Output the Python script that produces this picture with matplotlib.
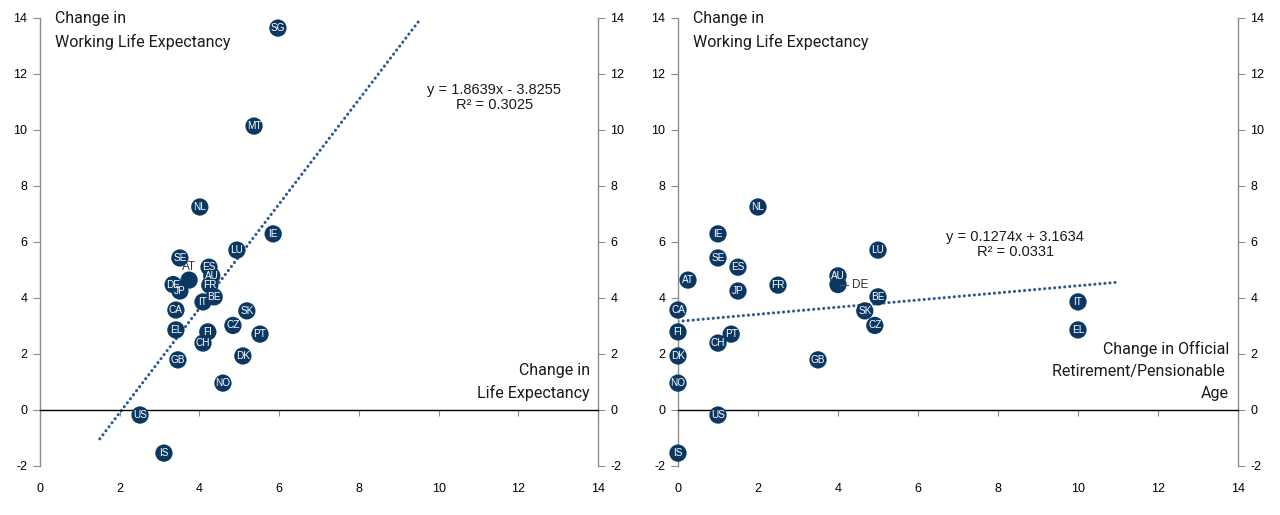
import numpy as np
import matplotlib.pyplot as plt
import matplotlib as mpl

mpl.rcParams.update({
    "font.family": ["Liberation Sans", "DejaVu Sans"],
    "font.size": 9,
    "axes.unicode_minus": False,
})

# country codes with change in life expectancy, working life expectancy, pension age
codes = ["SG", "MT", "NL", "IE", "LU", "SE", "AT", "ES", "AU", "FR", "DE", "JP", "BE",
         "IT", "CA", "SK", "CZ", "EL", "FI", "PT", "CH", "GB", "DK", "NO", "US", "IS"]
life_exp_chg = [5.97, 5.37, 4.01, 5.85, 4.94, 3.51, 3.74, 4.24, 4.31, 4.26, 3.34, 3.51, 4.37,
                4.09, 3.41, 5.19, 4.84, 3.41, 4.21, 5.52, 4.09, 3.46, 5.09, 4.59, 2.51, 3.11]
work_life_chg = [13.64, 10.14, 7.25, 6.29, 5.71, 5.43, 4.64, 5.10, 4.79, 4.46, 4.48, 4.25, 4.04,
                 3.86, 3.57, 3.54, 3.02, 2.86, 2.79, 2.71, 2.39, 1.79, 1.93, 0.96, -0.18, -1.54]
pension_age_chg = [np.nan, np.nan, 2.0, 1.0, 5.0, 1.0, 0.25, 1.5, 4.0, 2.5, 4.0, 1.5, 5.0,
                   10.0, 0.0, 4.67, 4.92, 10.0, 0.0, 1.33, 1.0, 3.5, 0.0, 0.0, 1.0, 0.0]

# trend lines as printed on the chart
fit_left = (1.8639, -3.8255, 0.3025)
fit_left_range = (1.5, 9.5)
fit_right = (0.1274, 3.1634, 0.0331)
fit_right_range = (0.0, 11.0)

ticks = np.arange(-2, 15, 2)
xticks = np.arange(0, 15, 2)

NAVY = "#0b3862"
TREND = "#2e5b8a"
SPINE = "#8c8c8c"
LABEL_FONT = ["Roboto", "DejaVu Sans"]


def style_axes(ax):
    ax.set_xlim(0, 14)
    ax.set_ylim(-2, 14)
    ax.set_yticks(ticks)
    ax.spines["top"].set_visible(False)
    for side in ("left", "right"):
        ax.spines[side].set_color(SPINE)
        ax.spines[side].set_linewidth(1.0)
    ax.spines["bottom"].set_position(("data", 0))
    ax.spines["bottom"].set_color("black")
    ax.spines["bottom"].set_linewidth(1.0)
    ax.set_xticks(xticks)
    ax.tick_params(axis="x", direction="out", length=4, color=SPINE, labelbottom=False)
    ax.tick_params(axis="y", direction="out", length=5, color=SPINE, left=True, right=True,
                   labelleft=True, labelright=True, labelsize=9, pad=4)
    sec = ax.secondary_xaxis("bottom")
    sec.set_xticks(xticks)
    sec.spines["bottom"].set_visible(False)
    sec.tick_params(length=0, pad=12, labelsize=9)


def draw_panel(ax, xs, outside, fit, fit_range, eq_pos, outside_style):
    xs = np.asarray(xs, dtype=float)
    ys = np.asarray(work_life_chg, dtype=float)
    ok = ~np.isnan(xs)

    a, b, r2 = fit
    fx = np.array(fit_range)
    ax.plot(fx, a * fx + b, color=TREND, lw=2.2, ls=(0, (0.05, 1.6)), dash_capstyle="round", zorder=2)
    sign = "-" if b < 0 else "+"
    ax.text(eq_pos[0], eq_pos[1], f"y = {a:.4f}x {sign} {abs(b):.4f}\nR² = {r2:.4f}",
            ha="center", va="center", fontsize=10.5, linespacing=1.1, color="#1a1a1a")

    ax.scatter(xs[ok], ys[ok], s=155, color=NAVY, edgecolor="none", zorder=3, clip_on=False)
    for c, x, y in zip(np.array(codes)[ok], xs[ok], ys[ok]):
        if c == outside:
            if outside_style == "above":
                ax.text(x, y + 0.45, c, ha="center", va="center", fontsize=8.5,
                        color="#333333", zorder=2)
            else:
                ax.plot([x + 0.05, x + 0.25], [y, y], color="#555555", lw=0.8, zorder=4)
                ax.text(x + 0.35, y, c, ha="left", va="center", fontsize=8.5, color="#333333")
        else:
            ax.text(x, y, c, ha="center", va="center", fontsize=7.2, color="white", zorder=4,
                    clip_on=False)


fig = plt.figure(figsize=(12.8, 5.15), dpi=100)
ax1 = fig.add_axes([40 / 1280, 1 - 466 / 515, 558 / 1280, 448 / 515])
ax2 = fig.add_axes([678 / 1280, 1 - 466 / 515, 560 / 1280, 448 / 515])
for ax in (ax1, ax2):
    style_axes(ax)

draw_panel(ax1, life_exp_chg, "AT", fit_left, fit_left_range, (11.4, 11.15), "above")
draw_panel(ax2, pension_age_chg, "DE", fit_right, fit_right_range, (8.43, 5.9), "right")

for ax in (ax1, ax2):
    ax.text(0.38, 14.25, "Change in\nWorking Life Expectancy", ha="left", va="top",
            fontsize=11.5, family=LABEL_FONT, linespacing=1.58, color="#1a1a1a")

ax1.text(13.8, 1.0, "Change in\nLife Expectancy", ha="right", va="center",
         multialignment="right", fontsize=11.5, family=LABEL_FONT, linespacing=1.58, color="#1a1a1a")
ax2.text(13.78, 1.4, "Change in Official\nRetirement/Pensionable \nAge", ha="right", va="center",
         multialignment="right", fontsize=11.5, family=LABEL_FONT, linespacing=1.58, color="#1a1a1a")

fig.savefig("out.png", dpi=100)
plt.close(fig)
